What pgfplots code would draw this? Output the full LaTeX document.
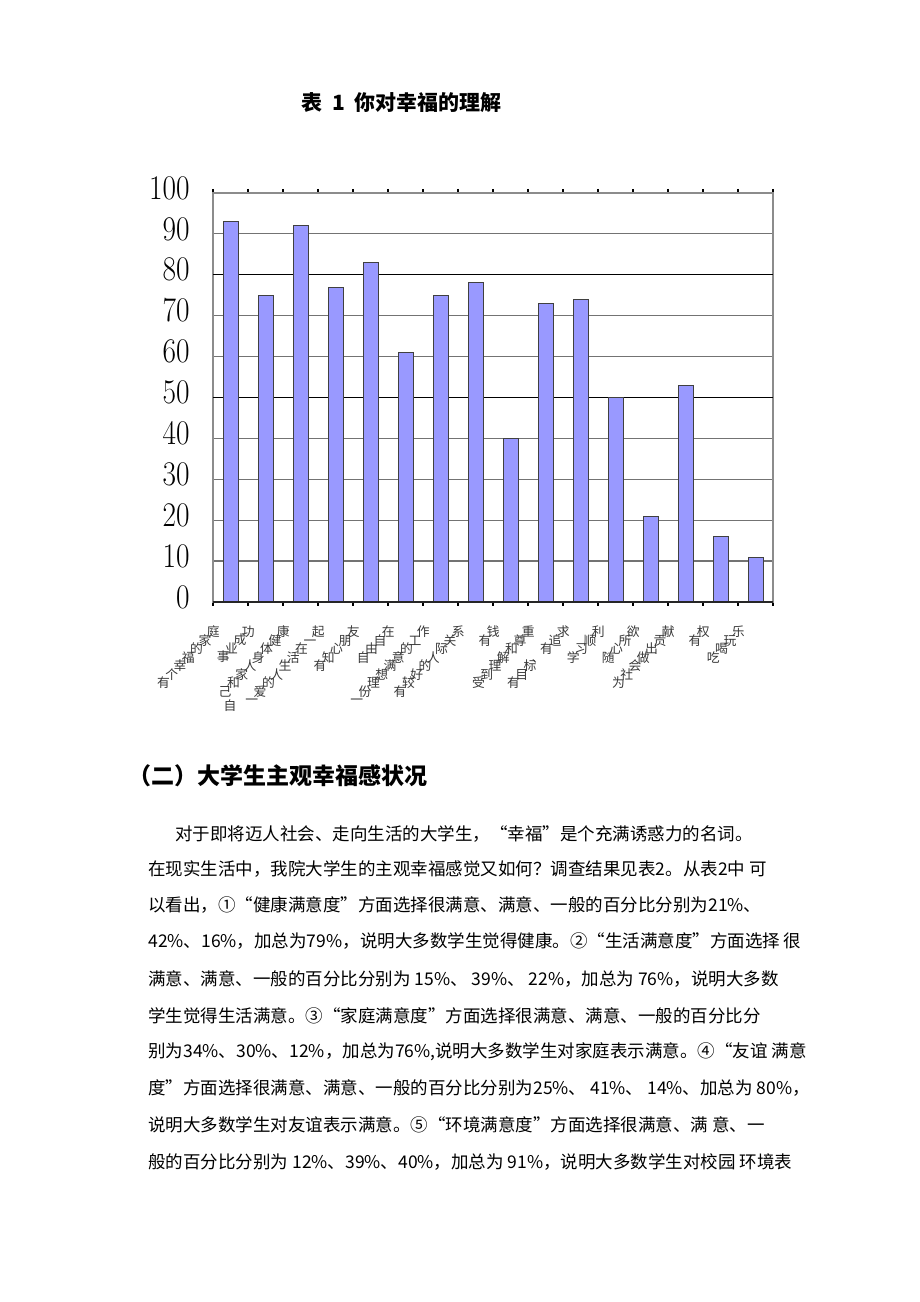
\documentclass[border=0pt]{standalone}
\usepackage{fontspec}
\setmainfont{Noto Sans CJK SC}
\usepackage{graphicx}
\usepackage{pgfplots}
\pgfplotsset{compat=1.18}
\definecolor{barblue}{RGB}{153,153,255}
\newdimen\dgr
\makeatletter
\def\diag#1{\begingroup\dgr=0pt\diag@first#1\relax\endgroup}
\def\diag@first#1{\raisebox{\dgr}{#1}\diag@}
\def\diag@#1{\ifx\relax#1\else\kern-2.25pt\advance\dgr by 4.25pt\raisebox{\dgr}{#1}\expandafter\diag@\fi}
\makeatother
\begin{document}
\begin{tikzpicture}
\useasboundingbox (0,0) rectangle (460pt,651pt);
\fill[white] (0,0) rectangle (460pt,651pt);
\node[font=\fontsize{10.5}{12}\selectfont\bfseries] at (200.75pt,599.5pt) {表\hspace{5pt}1\hspace{5pt}你对幸福的理解};
\begin{axis}[
  at={(106.5pt,350pt)}, anchor=south west,
  width=280pt, height=204.5pt, scale only axis,
  xmin=-0.5, xmax=15.5, ymin=0, ymax=100,
  ytick={0,10,...,100},
  ymajorgrids,
  grid style={black!55, line width=0.6pt},
  axis line style={black!45, line width=0.6pt},
  major tick length=0pt,
  minor tick length=2pt,
  minor tick style={black, line width=0.6pt},
  tick align=outside,
  xtick={0,...,15},
  minor xtick={-0.5,0.5,...,15.5},
  xticklabels={
    {\diag{有个幸福的家庭}},
    {\diag{事业成功}},
    {\rlap{\kern2.5pt\raisebox{-7pt}{自}}\diag{己和家人身体健康}},
    {\diag{一爱的人生活在一起}},
    {\diag{有知心朋友}},
    {\diag{自由自在}},
    {\diag{一份理想满意的工作}},
    {\diag{有较好的人际关系}},
    {\diag{有钱}},
    {\diag{受到理解和尊重}},
    {\diag{有目标、有追求}},
    {\diag{学习顺利}},
    {\diag{随心所欲}},
    {\diag{为社会做出贡献}},
    {\diag{有权}},
    {\diag{吃喝玩乐}}},
  xticklabel style={anchor=north east, inner sep=0pt, xshift=-5.25pt, yshift=-11.75pt, font=\fontsize{6.4}{6.4}\selectfont, text=black!78},
  yticklabel style={anchor=east, inner sep=0pt, xshift=-11.5pt, yshift=2.5pt, font=\fontsize{16}{16}\selectfont},
  yticklabel={\scalebox{0.85}[1]{\pgfmathprintnumber{\tick}}},
  extra y ticks={50,80},
  extra y tick labels={},
  extra y tick style={grid style={black, line width=0.6pt}},
  ybar, bar width=7.5pt,
  clip=false
]
\addplot[fill=barblue, draw=black!75, line width=0.5pt] coordinates {
  (0,93) (1,75) (2,92) (3,77) (4,83) (5,61) (6,75) (7,78)
  (8,40) (9,73) (10,74) (11,50) (12,21) (13,53) (14,16) (15,11)};
\draw[black!85, line width=0.7pt] (rel axis cs:0,0) -- (rel axis cs:1,0);
\end{axis}
\node[anchor=west, inner sep=0pt, font=\fontsize{11.5}{13}\selectfont\bfseries] at (64pt,263pt) {（二）大学生主观幸福感状况};
\begin{scope}[every node/.style={anchor=west, inner sep=0pt, font=\fontsize{8.75}{10.5}\selectfont}]
\node at (87.5pt,234pt) {对于即将迈人社会、走向生活的大学生，“幸福”是个充满诱惑力的名词。};
\node at (74pt,216.5pt) {在现实生活中，我院大学生的主观幸福感觉又如何？调查结果见表2。从表2中 可};
\node at (74pt,198.5pt) {以看出，①“健康满意度”方面选择很满意、满意、一般的百分比分别为21\%、};
\node at (74pt,180.5pt) {42\%、16\%，加总为79\%，说明大多数学生觉得健康。②“生活满意度”方面选择 很};
\node at (74pt,161.5pt) {满意、满意、一般的百分比分别为 15\%、 39\%、 22\%，加总为 76\%，说明大多数};
\node at (74pt,143pt) {学生觉得生活满意。③“家庭满意度”方面选择很满意、满意、一般的百分比分};
\node at (74pt,125pt) {别为34\%、30\%、12\%，加总为76\%,说明大多数学生对家庭表示满意。④“友谊 满意};
\node at (74pt,107pt) {度”方面选择很满意、满意、一般的百分比分别为25\%、 41\%、 14\%、加总为 80\%，};
\node at (74pt,88.5pt) {说明大多数学生对友谊表示满意。⑤“环境满意度”方面选择很满意、满 意、一};
\node at (74pt,70pt) {般的百分比分别为 12\%、39\%、40\%，加总为 91\%，说明大多数学生对校园 环境表};
\end{scope}
\end{tikzpicture}
\end{document}
